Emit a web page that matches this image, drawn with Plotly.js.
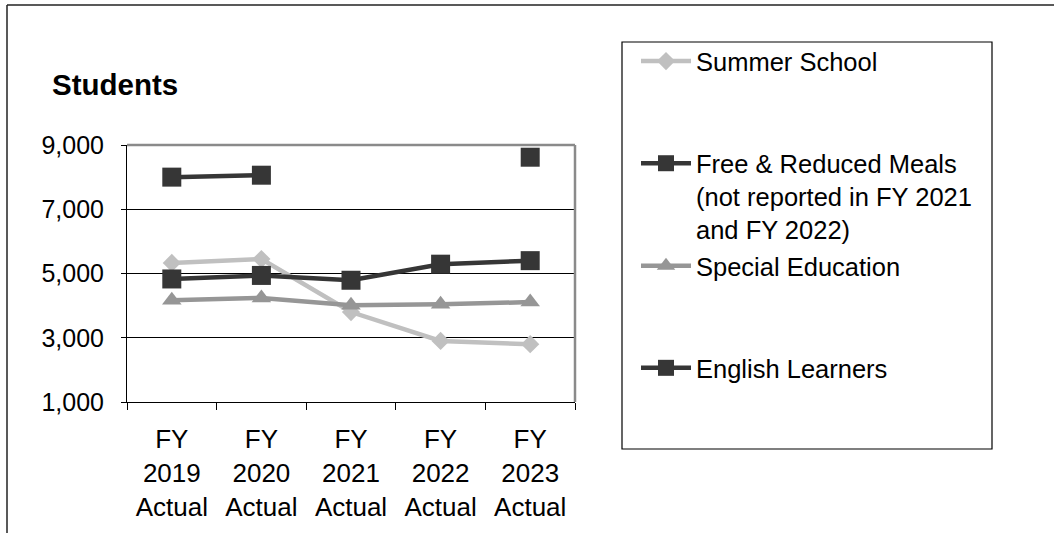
<!DOCTYPE html>
<html>
<head>
<meta charset="utf-8">
<script src="https://cdn.plot.ly/plotly-3.0.1.min.js"></script>
<style>html,body{margin:0;padding:0;background:#fff;}#chart{width:1054px;height:533px;}</style>
</head>
<body>
<div id="chart"></div>
<script>
const categories = ["FY<br>2019<br>Actual", "FY<br>2020<br>Actual", "FY<br>2021<br>Actual", "FY<br>2022<br>Actual", "FY<br>2023<br>Actual"];
const summerSchool = [5330, 5450, 3800, 2900, 2800];
const freeReducedMeals = [8000, 8060, null, null, 8620];
const specialEducation = [4170, 4240, 4010, 4040, 4110];
const englishLearners = [4830, 4940, 4790, 5290, 5400];
const seriesNames = ["Summer School", "Free & Reduced Meals<br>(not reported in FY 2021<br>and FY 2022)", "Special Education", "English Learners"];
const yTicks = [1000, 3000, 5000, 7000, 9000];

const FONT = "Liberation Sans, Arial, sans-serif";
const L = 127, R = 575, T = 145, B = 402;
const px = x => (x - L) / (R - L);
const py = y => (B - y) / (B - T);

const dark = "#363636";
const traces = [
  {x: categories, y: summerSchool, name: seriesNames[0], legendgroup: "a", type: "scatter", mode: "lines+markers",
   line: {color: "#c0c0c0", width: 4.5}, marker: {symbol: "diamond", size: 14, color: "#c0c0c0"}},
  {x: categories, y: freeReducedMeals, name: seriesNames[1], legendgroup: "b", type: "scatter", mode: "lines+markers",
   connectgaps: false, line: {color: dark, width: 4.5}, marker: {symbol: "square", size: 19, color: dark}},
  {x: categories, y: specialEducation, name: seriesNames[2], legendgroup: "b", type: "scatter", mode: "lines+markers",
   line: {color: "#969696", width: 4.5}, marker: {symbol: "triangle-up", size: 17, color: "#969696"}},
  {x: categories, y: englishLearners, name: seriesNames[3], legendgroup: "c", type: "scatter", mode: "lines+markers",
   line: {color: dark, width: 4.5}, marker: {symbol: "square", size: 19, color: dark}}
];

const layout = {
  width: 1054, height: 533,
  margin: {l: L, r: 1054 - R, t: T, b: 533 - B, pad: 0},
  paper_bgcolor: "#fff", plot_bgcolor: "#fff",
  font: {family: FONT, size: 25, color: "#000"},
  title: {text: "Students", font: {family: FONT, size: 29.5, weight: "bold", color: "#000"},
          xref: "container", yref: "container", x: 52 / 1054, xanchor: "left", y: 1 - 85 / 533, yanchor: "middle"},
  showlegend: true,
  legend: {x: px(636), xanchor: "left", y: py(38), yanchor: "top", bgcolor: "rgba(0,0,0,0)", borderwidth: 0,
           font: {family: FONT, size: 25.5, color: "#000"}, traceorder: "grouped", tracegroupgap: 66,
           valign: "top", itemwidth: 50, maxheight: 520},
  xaxis: {type: "category", range: [-0.5, 4.5], tickson: "boundaries", ticks: "outside", ticklen: 7, tickwidth: 1,
          tickcolor: "#000", showline: true, linecolor: "#000", linewidth: 1, showgrid: false, zeroline: false,
          ticklabelstandoff: 14,
          tickfont: {family: FONT, size: 26, color: "#000"}, fixedrange: true},
  yaxis: {range: [1000, 9000], tickvals: yTicks, tickformat: ",d", ticks: "outside", ticklen: 5, tickwidth: 1,
          tickcolor: "#000", showline: true, linecolor: "#000", linewidth: 1, showgrid: true, gridcolor: "#000",
          gridwidth: 1, zeroline: false, ticklabelstandoff: 12,
          tickfont: {family: FONT, size: 25, color: "#000"}, fixedrange: true},
  shapes: [
    {type: "line", xref: "paper", yref: "paper", x0: 0, x1: 1, y0: 1, y1: 1, line: {color: "#8a8a8a", width: 2.5}},
    {type: "line", xref: "paper", yref: "paper", x0: 1, x1: 1, y0: 0, y1: 1, line: {color: "#8a8a8a", width: 2.5}},
    {type: "rect", xref: "paper", yref: "paper", x0: px(622), x1: px(992), y0: py(449), y1: py(42),
     line: {color: "#000", width: 1.2}, fillcolor: "rgba(0,0,0,0)", layer: "below"},
    {type: "line", xref: "paper", yref: "paper", x0: px(7), x1: px(1060), y0: py(5), y1: py(5), line: {color: "#222", width: 1.5}},
    {type: "line", xref: "paper", yref: "paper", x0: px(7), x1: px(7), y0: py(5), y1: py(540), line: {color: "#222", width: 1.5}}
  ]
};

Plotly.newPlot("chart", traces, layout, {staticPlot: true, displayModeBar: false});
</script>
</body>
</html>
